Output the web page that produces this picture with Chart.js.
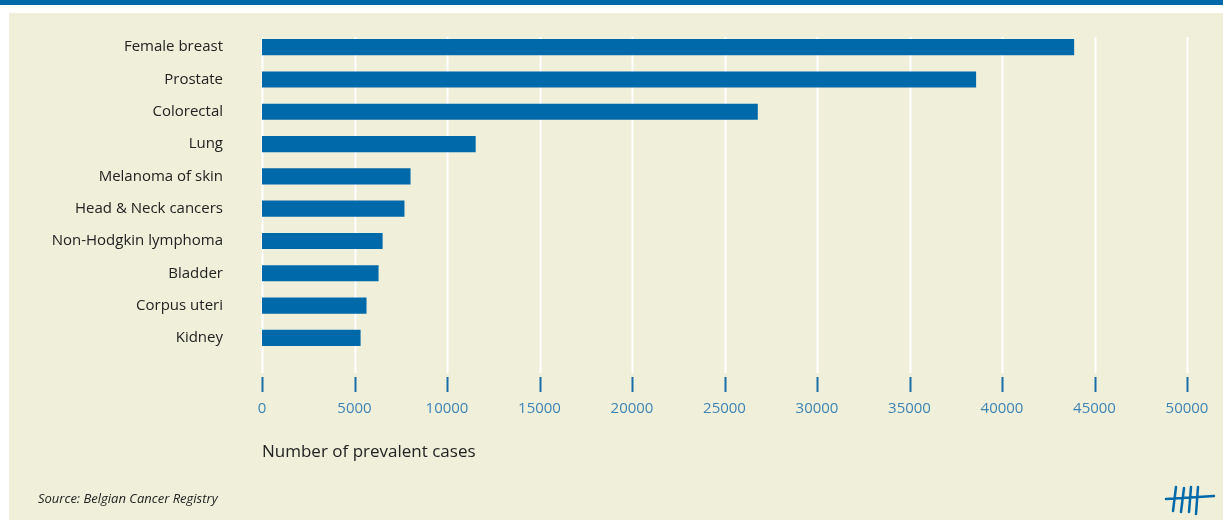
<!DOCTYPE html>
<html>
<head>
<meta charset="utf-8">
<script src="https://cdn.jsdelivr.net/npm/chart.js@4/dist/chart.umd.min.js"></script>
<style>
  html, body { margin: 0; padding: 0; background: #ffffff; width: 1223px; height: 520px; overflow: hidden; }
  #band { position: absolute; left: 0; top: 0; width: 1223px; height: 5px; background: #0069aa; }
  #panel { position: absolute; left: 9px; top: 13px; width: 1214px; height: 507px; background: #f0efda; }
  #wrap { position: absolute; left: 0; top: 0; width: 1223px; height: 520px; }
  #source { position: absolute; left: 38px; top: 489px; font: italic 13px "Open Sans", sans-serif; color: #222; }
</style>
</head>
<body>
<div id="band"></div>
<div id="panel"></div>
<div id="wrap"><canvas id="c" width="1223" height="520"></canvas></div>
<div id="source">Source: Belgian Cancer Registry</div>
<script>
const categories = [
  "Female breast", "Prostate", "Colorectal", "Lung", "Melanoma of skin",
  "Head & Neck cancers", "Non-Hodgkin lymphoma", "Bladder", "Corpus uteri", "Kidney"
];
const prevalentCases = [43900, 38600, 26800, 11550, 8030, 7700, 6520, 6300, 5650, 5330];
const tickValues = [0, 5000, 10000, 15000, 20000, 25000, 30000, 35000, 40000, 45000, 50000];
const axisTitle = "Number of prevalent cases";

const FONT = '"Open Sans", sans-serif';
const BLUE = '#0069aa';

const gridPlugin = {
  id: 'customGrid',
  beforeDatasetsDraw(chart) {
    const { ctx, chartArea, scales } = chart;
    const x = scales.x;
    ctx.save();
    tickValues.forEach(v => {
      const px = Math.round(x.getPixelForValue(v)) + 0.5;
      ctx.strokeStyle = '#ffffff';
      ctx.lineWidth = 2;
      ctx.beginPath();
      ctx.moveTo(px, chartArea.top + 6);
      ctx.lineTo(px, chartArea.bottom + 19);
      ctx.stroke();
      ctx.strokeStyle = '#1a6ea8';
      ctx.beginPath();
      ctx.moveTo(px, chartArea.bottom + 23);
      ctx.lineTo(px, chartArea.bottom + 38);
      ctx.stroke();
    });
    ctx.restore();
  },
  afterDraw(chart) {
    const { ctx } = chart;
    ctx.save();
    ctx.strokeStyle = BLUE;
    ctx.lineWidth = 2.5;
    ctx.lineCap = 'round';
    ctx.beginPath();
    ctx.moveTo(1166, 499); ctx.lineTo(1214, 496);
    [[1176, 487, 1173, 511], [1184, 488, 1181, 512], [1191, 487, 1189, 512], [1198, 487, 1196, 514]].forEach(s => {
      ctx.moveTo(s[0], s[1]); ctx.lineTo(s[2], s[3]);
    });
    ctx.stroke();
    ctx.restore();
  }
};

new Chart(document.getElementById('c'), {
  type: 'bar',
  data: {
    labels: categories,
    datasets: [{
      data: prevalentCases,
      backgroundColor: BLUE,
      borderWidth: 0,
      categoryPercentage: 1,
      barPercentage: 0.5
    }]
  },
  plugins: [gridPlugin],
  options: {
    indexAxis: 'y',
    responsive: false,
    animation: false,
    layout: { padding: { top: 31, right: 36, bottom: 0, left: 0 } },
    plugins: { legend: { display: false }, tooltip: { enabled: false } },
    scales: {
      x: {
        type: 'linear',
        position: 'bottom',
        min: 0,
        max: 50000,
        afterBuildTicks: s => { s.ticks = tickValues.map(v => ({ value: v })); },
        afterFit: s => { s.height = 166; s.paddingLeft = 0; s.paddingRight = 0; },
        grid: { display: false, drawTicks: false },
        border: { display: false },
        ticks: {
          color: '#3c84b6',
          font: { family: FONT, size: 15 },
          padding: 46,
          maxRotation: 0,
          callback: v => String(v)
        },
        title: {
          display: true,
          text: axisTitle,
          align: 'start',
          color: '#222222',
          font: { family: FONT, size: 17 },
          padding: { top: 0, bottom: 58 }
        }
      },
      y: {
        grid: { display: false, drawTicks: false },
        border: { display: false },
        afterFit: s => { s.width = 262; s.paddingTop = 0; s.paddingBottom = 0; },
        ticks: {
          color: '#222222',
          font: { family: FONT, size: 15 },
          padding: 39
        }
      }
    }
  }
});
</script>
</body>
</html>
